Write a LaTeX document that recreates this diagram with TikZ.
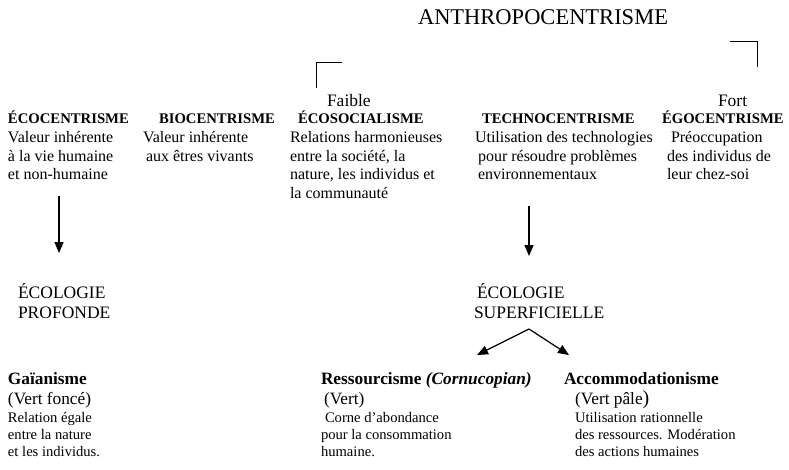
\documentclass[tikz,border=0pt]{standalone}
\usepackage{fontspec}
\setmainfont{Liberation Serif}
\usetikzlibrary{arrows.meta}

% lines stacked from the first baseline downwards
\newcommand{\stack}[1]{\begin{tabular}[t]{@{}l@{}}#1\end{tabular}}

\begin{document}
\begin{tikzpicture}[x=1pt,y=-1pt,
  txt/.style={anchor=base west,inner sep=0pt,outer sep=0pt},
  title/.style={txt,font=\fontsize{22.5}{26}\selectfont},
  pole/.style={txt,font=\fontsize{17.5}{20}\selectfont},
  head/.style={txt,font=\fontsize{14.7}{17}\selectfont\bfseries},
  body/.style={txt,font=\fontsize{16}{18.5}\selectfont},
  branch/.style={txt,font=\fontsize{17.5}{20.5}\selectfont},
  kind/.style={txt,font=\fontsize{17.3}{20.5}\selectfont\bfseries},
  shade/.style={txt,font=\fontsize{17.3}{20.5}\selectfont},
  desc/.style={txt,font=\fontsize{14.6}{17.2}\selectfont},
  bracket/.style={line width=0.9pt},
  flow/.style={line width=1.2pt,-{Triangle[length=11pt,width=9pt]}}
]
\useasboundingbox (0,0) rectangle (789,469);

% scale title and its two ends
\node[title] (anthro) at (418,24) {ANTHROPOCENTRISME};
\coordinate (strongA) at (730,41);
\coordinate (strongB) at (757,41);
\coordinate (strongC) at (757,67);
\draw[bracket] (strongA) -- (strongB) -- (strongC);
\coordinate (weakA) at (316,88);
\coordinate (weakB) at (316,62);
\coordinate (weakC) at (342,62);
\draw[bracket] (weakA) -- (weakB) -- (weakC);
\node[pole] (faible) at (327,106) {Faible};
\node[pole] (fort) at (718,106) {Fort};

% the five positions
\node[head] (eco) at (8,123.5) {ÉCOCENTRISME};
\node[head] (bio) at (159,123.5) {BIOCENTRISME};
\node[head] (ecosoc) at (298,123.5) {ÉCOSOCIALISME};
\node[head] (techno) at (482,123.5) {TECHNOCENTRISME};
\node[head] (ego) at (662,123.5) {ÉGOCENTRISME};

\node[body] (ecoT) at (8,142.5) {\stack{Valeur inhérente\\à la vie humaine\\et non-humaine}};
\node[body] (bioT) at (143,142.5) {\stack{Valeur inhérente\\\hspace*{3pt}aux êtres vivants}};
\node[body] (ecosocT) at (290,142.5) {\stack{Relations harmonieuses\\entre la société, la\\nature, les individus et\\la communauté}};
\node[body] (technoT) at (475,142.5) {\stack{Utilisation des technologies\\\hspace*{3pt}pour résoudre problèmes\\\hspace*{3pt}environnementaux}};
\node[body] (egoT) at (667,142.5) {\stack{\hspace*{4pt}Préoccupation\\des individus de\\leur chez-soi}};

% the two ecologies
\coordinate (deepTop) at (59,196);
\coordinate (deepTip) at (59,253);
\draw[flow] (deepTop) -- (deepTip);
\coordinate (shallowTop) at (529,206);
\coordinate (shallowTip) at (529,256);
\draw[flow] (shallowTop) -- (shallowTip);

\node[branch] (deep) at (18,298) {\stack{ÉCOLOGIE\\PROFONDE}};
\node[branch] (shallow) at (477,298) {\stack{ÉCOLOGIE\\\hspace*{-3pt}SUPERFICIELLE}};

\coordinate (fork) at (529,329);
\coordinate (forkL) at (477,355);
\coordinate (forkR) at (569,355);
\draw[flow] (fork) -- (forkL);
\draw[flow] (fork) -- (forkR);

% shades of green
\node[kind] (gaia) at (8,384) {Gaïanisme};
\node[shade] (gaiaS) at (8,404.5) {(Vert foncé)};
\node[desc] (gaiaT) at (8,422) {\stack{Relation égale\\entre la nature\\et les individus.}};

\node[kind] (ress) at (321,384) {Ressourcisme \textit{(Cornucopian)}};
\node[shade] (ressS) at (321,404.5) {\hspace*{3pt}(Vert)};
\node[desc] (ressT) at (321,422) {\stack{\hspace*{4pt}Corne d’abondance\\pour la consommation\\humaine.}};

\node[kind] (acco) at (564,384) {Accommodationisme};
\node[shade] (accoS) at (575,404.5) {(Vert pâle{\fontsize{20}{20}\selectfont)}};
\node[desc] (accoT) at (575,422) {\stack{Utilisation rationnelle\\des ressources. Modération\\des actions humaines}};
\end{tikzpicture}
\end{document}
